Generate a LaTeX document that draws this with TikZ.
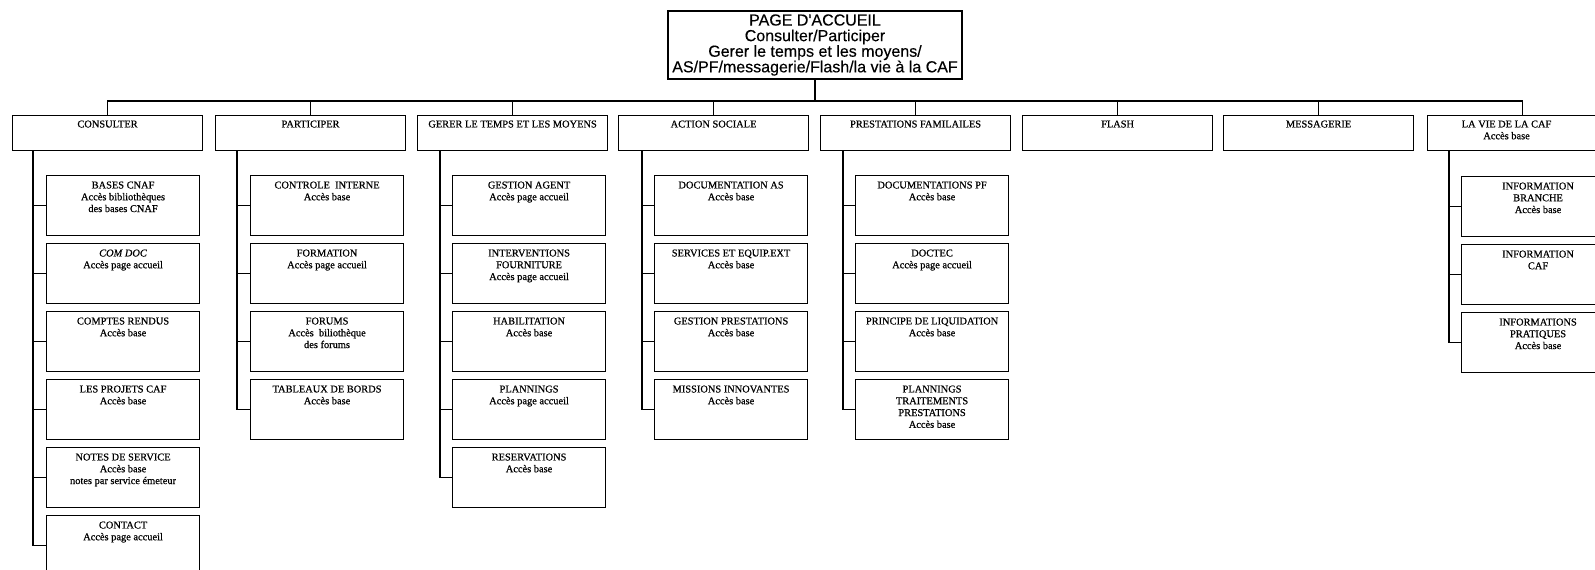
\documentclass[tikz,border=0pt]{standalone}
\usepackage{fontspec}
\setmainfont{Liberation Serif}[FakeBold=0.6]
\newfontfamily\headfont{Liberation Sans}[FakeBold=0.3]
\begin{document}
\begin{tikzpicture}[x=1pt,y=-1pt,line width=1.1pt,
  boxline/.style={draw,rectangle,inner sep=0pt},
  topbox/.style={boxline,minimum width=294pt,minimum height=68pt,align=center,
    font=\headfont\fontsize{16}{15.6}\selectfont},
  headbox/.style={boxline,anchor=north west,minimum width=190pt,minimum height=35pt},
  kidbox/.style={boxline,anchor=north west,minimum width=153pt,minimum height=60pt},
  boxtext/.style={anchor=north,align=center,inner sep=0pt,
    font=\fontsize{10.4}{11.8}\selectfont}]

\useasboundingbox (0,0) rectangle (1595,570);
\clip (0,0) rectangle (1595,570);

% header box with its title
\newcommand\headnode[4]{%
  \node[headbox] (#1) at (#2,115) {};
  \node[boxtext] (#1t) at ([yshift=-5pt]#1.north) {#3#4};}
% child box with its text
\newcommand\kidnode[4]{%
  \node[kidbox] (#1) at (#2,#3) {};
  \node[boxtext] (#1t) at ([yshift=-6pt]#1.north) {#4};}

% root
\node[topbox] (top) at (815,45)
  {PAGE D'ACCUEIL\\Consulter/Participer\\Gerer le temps et les moyens/\\AS/PF/messagerie/Flash/la vie à la CAF};

% first level
\headnode{h1}{12}{CONSULTER}{}
\headnode{h2}{215}{PARTICIPER}{}
\headnode{h3}{417}{GERER LE TEMPS ET LES MOYENS}{}
\headnode{h4}{618}{ACTION SOCIALE}{}
\headnode{h5}{820}{PRESTATIONS FAMILAILES}{}
\headnode{h6}{1022}{FLASH}{}
\headnode{h7}{1223}{MESSAGERIE}{}
\node[headbox] (h8) at (1427,115) {};
\node[boxtext] (h8t) at ([xshift=-16pt,yshift=-5pt]h8.north) {LA VIE DE LA CAF\\Accès base};

% bus between the root and the first level
\coordinate (bus) at (0,101);
\draw (top.south) -- (top.south |- bus);
\draw (h1.north) -- (h1.north |- bus) -- (h8.north |- bus) -- (h8.north);
\foreach \h in {h2,h3,h4,h5,h6,h7} \draw (\h.north) -- (\h.north |- bus);

% CONSULTER
\kidnode{c1a}{46}{175}{BASES CNAF\\Accès bibliothèques\\des bases CNAF}
\kidnode{c1b}{46}{243}{\textit{COM DOC}\\Accès page accueil}
\kidnode{c1c}{46}{311}{COMPTES RENDUS\\Accès base}
\kidnode{c1d}{46}{379}{LES PROJETS CAF\\Accès base}
\kidnode{c1e}{46}{447}{NOTES DE SERVICE\\Accès base\\notes par service émeteur}
\kidnode{c1f}{46}{515}{CONTACT\\Accès page accueil}

% PARTICIPER
\kidnode{c2a}{250}{175}{CONTROLE\ \ INTERNE\\Accès base}
\kidnode{c2b}{250}{243}{FORMATION\\Accès page accueil}
\kidnode{c2c}{250}{311}{FORUMS\\Accès\ \ biliothèque\\des forums}
\kidnode{c2d}{250}{379}{TABLEAUX DE BORDS\\Accès base}

% GERER LE TEMPS ET LES MOYENS
\kidnode{c3a}{452}{175}{GESTION AGENT\\Accès page accueil}
\kidnode{c3b}{452}{243}{INTERVENTIONS\\FOURNITURE\\Accès page accueil}
\kidnode{c3c}{452}{311}{HABILITATION\\Accès base}
\kidnode{c3d}{452}{379}{PLANNINGS\\Accès page accueil}
\kidnode{c3e}{452}{447}{RESERVATIONS\\Accès base}

% ACTION SOCIALE
\kidnode{c4a}{654}{175}{DOCUMENTATION AS\\Accès base}
\kidnode{c4b}{654}{243}{SERVICES ET EQUIP.EXT\\Accès base}
\kidnode{c4c}{654}{311}{GESTION PRESTATIONS\\Accès base}
\kidnode{c4d}{654}{379}{MISSIONS INNOVANTES\\Accès base}

% PRESTATIONS FAMILAILES
\kidnode{c5a}{855}{175}{DOCUMENTATIONS PF\\Accès base}
\kidnode{c5b}{855}{243}{DOCTEC\\Accès page accueil}
\kidnode{c5c}{855}{311}{PRINCIPE DE LIQUIDATION\\Accès base}
\kidnode{c5d}{855}{379}{PLANNINGS\\TRAITEMENTS\\PRESTATIONS\\Accès base}

% LA VIE DE LA CAF
\kidnode{c8a}{1461}{176}{INFORMATION\\BRANCHE\\Accès base}
\kidnode{c8b}{1461}{244}{INFORMATION\\CAF}
\kidnode{c8c}{1461}{312}{INFORMATIONS\\PRATIQUES\\Accès base}

% trunks down the left side of each column
\coordinate (tr1) at ([xshift=21pt]h1.south west);
\coordinate (tr2) at ([xshift=22pt]h2.south west);
\coordinate (tr3) at ([xshift=23pt]h3.south west);
\coordinate (tr4) at ([xshift=24pt]h4.south west);
\coordinate (tr5) at ([xshift=23pt]h5.south west);
\coordinate (tr8) at ([xshift=22pt]h8.south west);
\draw (tr1) |- (c1f.west);
\draw (tr2) |- (c2d.west);
\draw (tr3) |- (c3e.west);
\draw (tr4) |- (c4d.west);
\draw (tr5) |- (c5d.west);
\draw (tr8) |- (c8c.west);
\foreach \k in {a,b,c,d,e} \draw (c1\k.west) -- (c1\k.west -| tr1);
\foreach \k in {a,b,c} \draw (c2\k.west) -- (c2\k.west -| tr2);
\foreach \k in {a,b,c,d} \draw (c3\k.west) -- (c3\k.west -| tr3);
\foreach \k in {a,b,c} \draw (c4\k.west) -- (c4\k.west -| tr4);
\foreach \k in {a,b,c} \draw (c5\k.west) -- (c5\k.west -| tr5);
\foreach \k in {a,b} \draw (c8\k.west) -- (c8\k.west -| tr8);
\end{tikzpicture}
\end{document}
